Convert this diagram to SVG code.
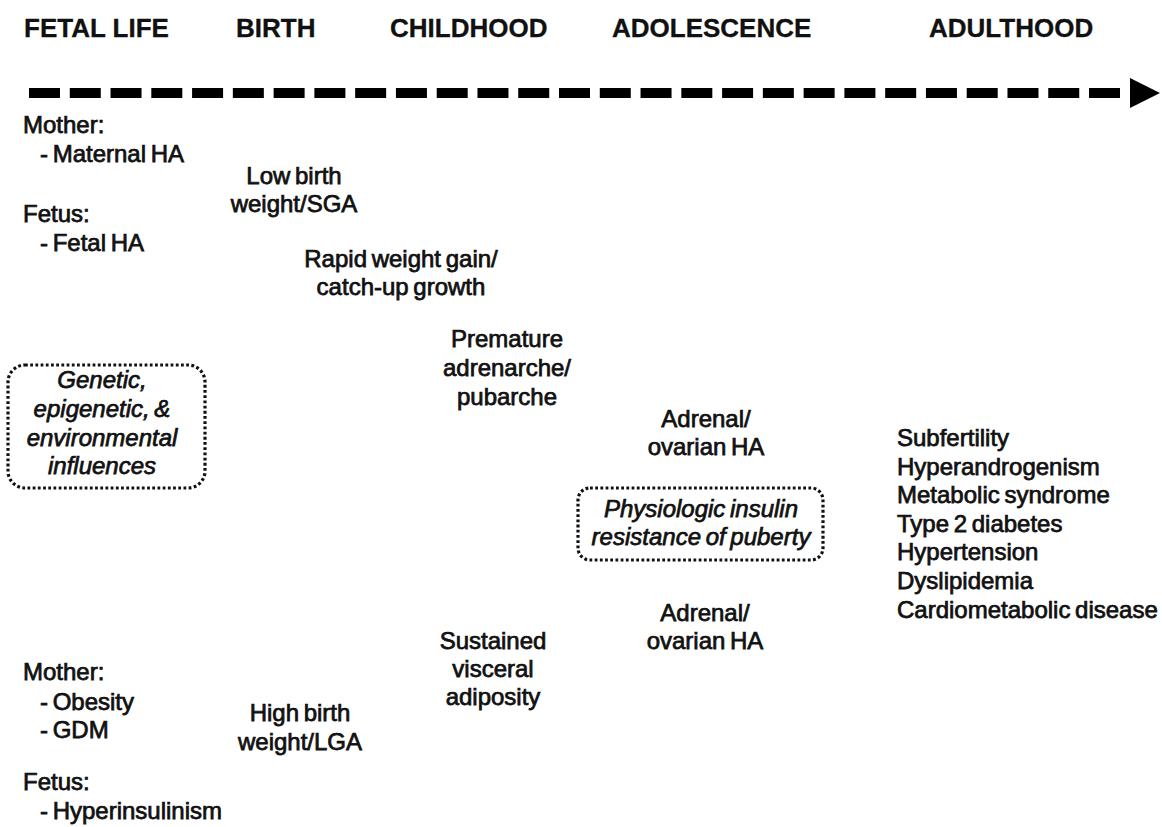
<svg xmlns="http://www.w3.org/2000/svg" width="1162" height="827" viewBox="0 0 1162 827">
<style>
.h{font-family:"Liberation Sans",Arial,sans-serif;font-weight:bold;font-size:26px;fill:#111;stroke:#111;stroke-width:0.3}
.t{font-family:"Liberation Sans",Arial,sans-serif;font-size:24px;fill:#111;stroke:#111;stroke-width:0.75;word-spacing:-2px}
.c{text-anchor:middle}
.i{font-style:italic}
.box{fill:none;stroke:#111;stroke-width:3.2;stroke-dasharray:2.8 2.4}
</style>
<rect width="1162" height="827" fill="#fff"/>
<g id="headers">
<text class="h" x="24" y="37">FETAL LIFE</text>
<text class="h" x="236" y="37">BIRTH</text>
<text class="h" x="390" y="37">CHILDHOOD</text>
<text class="h" x="612" y="37">ADOLESCENCE</text>
<text class="h" x="929" y="37">ADULTHOOD</text>
</g>
<g id="connectors">
<line x1="29" y1="93" x2="1120" y2="93" stroke="#000" stroke-width="10" stroke-dasharray="31 9.77"/>
<polygon points="1130,78 1160,93 1130,108" fill="#000"/>
</g>
<g id="fetal-top">
<text class="t" x="23" y="133">Mother:</text>
<text class="t" x="40" y="162">- Maternal HA</text>
<text class="t" x="23" y="222">Fetus:</text>
<text class="t" x="40" y="251">- Fetal HA</text>
</g>
<g id="low-birth-weight">
<text class="t c" x="294" y="184">Low birth</text>
<text class="t c" x="294" y="212">weight/SGA</text>
</g>
<g id="rapid-weight-gain">
<text class="t c" x="401" y="267">Rapid weight gain/</text>
<text class="t c" x="401" y="295">catch-up growth</text>
</g>
<g id="premature-adrenarche">
<text class="t c" x="507" y="347">Premature</text>
<text class="t c" x="507" y="376">adrenarche/</text>
<text class="t c" x="507" y="405">pubarche</text>
</g>
<g id="influences">
<rect class="box" x="8" y="365" width="197" height="123" rx="17"/>
<text class="t c i" x="102" y="388">Genetic,</text>
<text class="t c i" x="102" y="417">epigenetic, &amp;</text>
<text class="t c i" x="102" y="446">environmental</text>
<text class="t c i" x="102" y="474">influences</text>
</g>
<g id="adrenal-ovarian-upper">
<text class="t c" x="706" y="427">Adrenal/</text>
<text class="t c" x="706" y="455">ovarian HA</text>
</g>
<g id="insulin-resistance">
<rect class="box" x="578" y="488" width="245" height="72" rx="12"/>
<text class="t c i" x="701" y="517">Physiologic insulin</text>
<text class="t c i" x="701" y="545">resistance of puberty</text>
</g>
<g id="adrenal-ovarian-lower">
<text class="t c" x="705" y="621">Adrenal/</text>
<text class="t c" x="705" y="649">ovarian HA</text>
</g>
<g id="visceral-adiposity">
<text class="t c" x="493" y="649">Sustained</text>
<text class="t c" x="493" y="677">visceral</text>
<text class="t c" x="493" y="705">adiposity</text>
</g>
<g id="outcomes">
<text class="t" x="897" y="446">Subfertility</text>
<text class="t" x="897" y="474.6">Hyperandrogenism</text>
<text class="t" x="897" y="503.2">Metabolic syndrome</text>
<text class="t" x="897" y="531.8">Type 2 diabetes</text>
<text class="t" x="897" y="560.4">Hypertension</text>
<text class="t" x="897" y="589">Dyslipidemia</text>
<text class="t" x="897" y="617.6">Cardiometabolic disease</text>
</g>
<g id="fetal-bottom">
<text class="t" x="23" y="680">Mother:</text>
<text class="t" x="40" y="710">- Obesity</text>
<text class="t" x="40" y="738">- GDM</text>
<text class="t" x="23" y="790">Fetus:</text>
<text class="t" x="40" y="819">- Hyperinsulinism</text>
</g>
<g id="high-birth-weight">
<text class="t c" x="300" y="721">High birth</text>
<text class="t c" x="300" y="750">weight/LGA</text>
</g>
</svg>
